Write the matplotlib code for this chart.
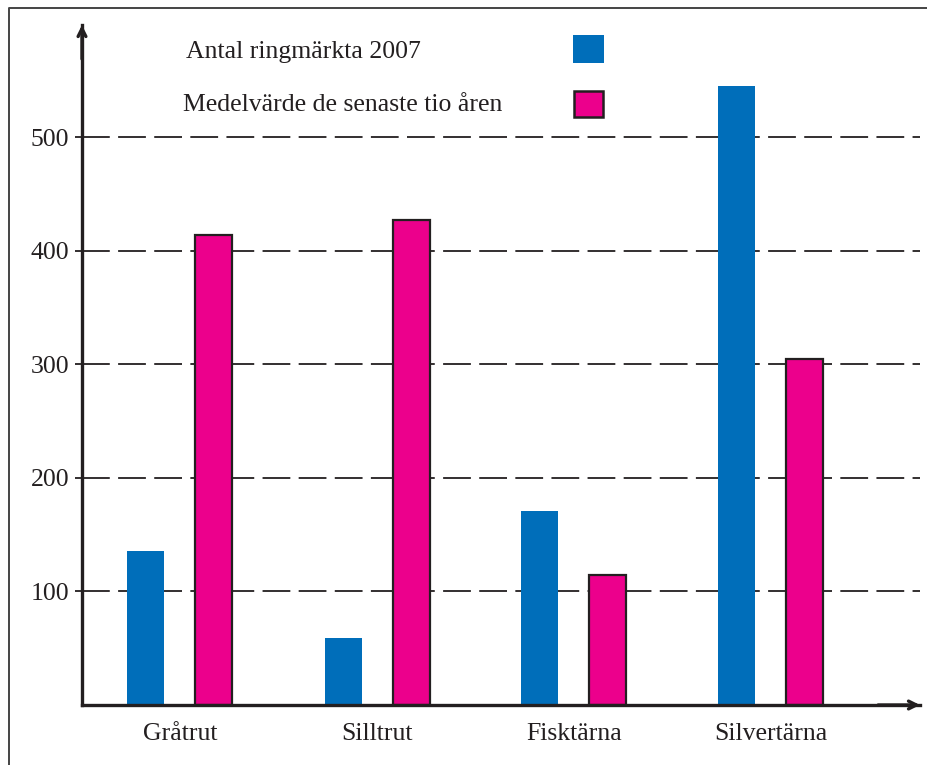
import matplotlib
matplotlib.use("Agg")
import matplotlib.pyplot as plt
from matplotlib.lines import Line2D
from matplotlib.patches import Rectangle
import numpy as np

plt.rcParams['font.family'] = ['Liberation Serif', 'DejaVu Serif']
plt.rcParams['lines.scale_dashes'] = False

categories = ["Gråtrut", "Silltrut", "Fisktärna", "Silvertärna"]
ringed_2007 = [136, 59, 171, 545]
mean_ten_years = [414, 427, 114, 305]
yticks = [100, 200, 300, 400, 500]
legend_labels = ["Antal ringmärkta 2007", "Medelvärde de senaste tio åren"]

BLUE = "#006EBA"
PINK = "#EC008C"
DARK = "#231F20"
FS = 18.5

W, H = 928, 765
fig = plt.figure(figsize=(W / 100, H / 100), dpi=100)
ax_l, ax_r, ax_b, ax_t = 82, 920, 705, 25
ax = fig.add_axes([ax_l / W, (H - ax_b) / H, (ax_r - ax_l) / W, (ax_b - ax_t) / H])

x = np.arange(len(categories))
off = 34 / 197
bw = 37 / 197
ax.bar(x - off, ringed_2007, width=bw, color=BLUE, zorder=3)
ax.bar(x + off, mean_ten_years, width=bw, color=PINK, edgecolor=DARK, linewidth=1.6, zorder=3)

ax.set_xlim((ax_l - 180) / 197, (ax_r - 180) / 197)
ax.set_ylim(0, (ax_b - ax_t) / 1.136)

for v in yticks:
    ax.axhline(v, color=DARK, lw=1.3, dashes=(20, 6), zorder=1)

for s in ["top", "right"]:
    ax.spines[s].set_visible(False)
for s in ["left", "bottom"]:
    ax.spines[s].set_linewidth(2.4)
    ax.spines[s].set_color(DARK)
    ax.spines[s].set_zorder(4)

ax.set_yticks(yticks)
ax.set_yticklabels([str(v) for v in yticks], fontsize=FS, color=DARK)
ax.tick_params(axis='y', length=5, width=1.3, color=DARK, pad=4)
ax.set_xticks(x)
ax.set_xticklabels(categories, fontsize=FS, color=DARK)
ax.tick_params(axis='x', length=0, pad=13)

# arrowheads
ax.annotate("", xy=(0, 1.0), xytext=(0, 0.95), xycoords='axes fraction',
            arrowprops=dict(arrowstyle='->', lw=2.4, color=DARK, mutation_scale=14,
                            shrinkA=0, shrinkB=0), annotation_clip=False)
ax.annotate("", xy=(1.0, 0), xytext=(0.95, 0), xycoords='axes fraction',
            arrowprops=dict(arrowstyle='->', lw=2.4, color=DARK, mutation_scale=14,
                            shrinkA=0, shrinkB=0), annotation_clip=False)

# legend
fig.text(186 / W, 1 - 52 / H, legend_labels[0], fontsize=FS, color=DARK, va='center', ha='left')
fig.text(183 / W, 1 - 105 / H, legend_labels[1], fontsize=FS, color=DARK, va='center', ha='left')
fig.add_artist(Rectangle((573 / W, 1 - 63 / H), 31 / W, 28 / H, transform=fig.transFigure,
                         facecolor=BLUE, edgecolor='none'))
fig.add_artist(Rectangle((574 / W, 1 - 117 / H), 29 / W, 26 / H, transform=fig.transFigure,
                         facecolor=PINK, edgecolor=DARK, linewidth=1.8))

# outer frame
fig.add_artist(Line2D([9 / W, 9 / W, 1.0], [0.0, 1 - 8 / H, 1 - 8 / H],
                      transform=fig.transFigure, color="#444444", lw=1.4))

fig.savefig("out.png", dpi=100)
